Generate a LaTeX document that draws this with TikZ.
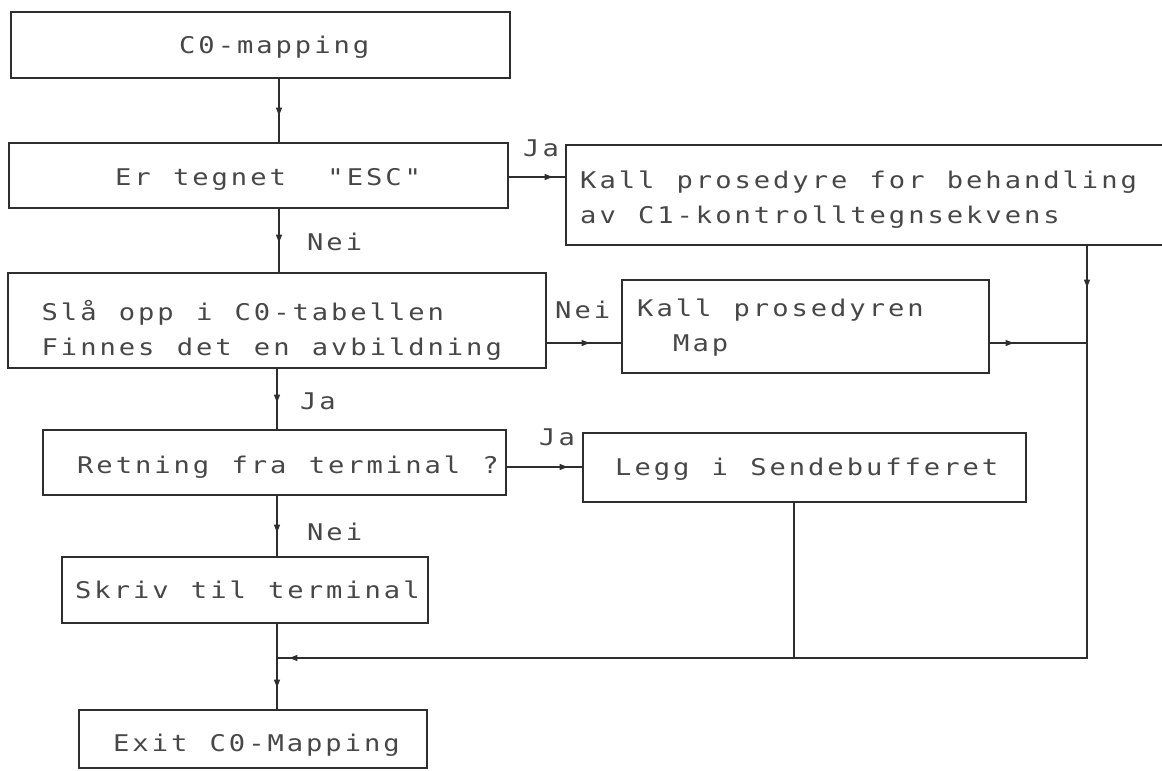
\documentclass[tikz,border=0pt]{standalone}
\usepackage{fontspec}
\newfontfamily\typefont{DejaVu Sans Mono}[FakeStretch=1.18]
\usetikzlibrary{arrows.meta,decorations.markings}

% typewriter-style text: every character sits in a cell of fixed pitch
\newlength\pitch
\setlength\pitch{19.3pt}
\makeatletter
\def\typed@end{\typed@end}
\def\typed#1{\typed@loop#1\typed@end}
\def\typed@loop#1{\ifx#1\typed@end\else\hbox to\pitch{#1\hss}\expandafter\typed@loop\fi}
\makeatother

\definecolor{ink}{gray}{0.18}
\definecolor{typeink}{gray}{0.28}

\tikzset{
  box/.style={draw=ink, line width=1.3pt, rectangle, inner sep=0pt},
  flow/.style={draw=ink, line width=1.1pt},
  tip/.style={postaction={decorate, decoration={markings,
      mark=at position #1 with {\arrow{Triangle[length=8pt,width=6pt]}}}}},
  txt/.style={anchor=base west, inner sep=0pt, text=typeink,
      font=\typefont\fontsize{23pt}{28pt}\selectfont},
}

\begin{document}
\begin{tikzpicture}[x=1pt, y=-1pt]
  \useasboundingbox (0,0) rectangle (1162,771);
  \clip (0,0) rectangle (1162,771);

  % boxes
  \node[box, minimum width=499pt, minimum height=66pt] (b1) at (260.5,45) {};
  \node[box, minimum width=499pt, minimum height=65pt] (b2) at (258.5,175.5) {};
  \node[box, minimum width=614pt, minimum height=100pt] (bk) at (873,195) {};
  \node[box, minimum width=538pt, minimum height=95pt] (bs) at (277,320.5) {};
  \node[box, minimum width=367pt, minimum height=93pt] (bm) at (805.5,326.5) {};
  \node[box, minimum width=463pt, minimum height=65pt] (br) at (274.5,462.5) {};
  \node[box, minimum width=443pt, minimum height=69pt] (bl) at (804.5,467.5) {};
  \node[box, minimum width=366pt, minimum height=66pt] (bw) at (245,590) {};
  \node[box, minimum width=348pt, minimum height=58pt] (be) at (253,739) {};

  % box texts
  \node[txt] (t1)  at (179,53)   {\typed{C0-mapping}};
  \node[txt] (t2)  at (115,185)  {\typed{Er~tegnet~~"ESC"}};
  \node[txt] (t3a) at (580,188)  {\typed{Kall~prosedyre~for~behandling}};
  \node[txt] (t3b) at (580,223)  {\typed{av~C1-kontrolltegnsekvens}};
  \node[txt] (t4a) at (41.5,320) {\typed{Slå~opp~i~C0-tabellen}};
  \node[txt] (t4b) at (41.5,355) {\typed{Finnes~det~en~avbildning}};
  \node[txt] (t5a) at (637,316)  {\typed{Kall~prosedyren}};
  \node[txt] (t5b) at (673,351)  {\typed{Map}};
  \node[txt] (t6)  at (77,473)   {\typed{Retning~fra~terminal~?}};
  \node[txt] (t7)  at (615,475)  {\typed{Legg~i~Sendebufferet}};
  \node[txt] (t8)  at (75,598)   {\typed{Skriv~til~terminal}};
  \node[txt] (t9)  at (113,751)  {\typed{Exit~C0-Mapping}};

  % branch labels
  \node[txt] (l1) at (523,156) {\typed{Ja}};
  \node[txt] (l2) at (307,250) {\typed{Nei}};
  \node[txt] (l3) at (555,318) {\typed{Nei}};
  \node[txt] (l4) at (300,409) {\typed{Ja}};
  \node[txt] (l5) at (539,445) {\typed{Ja}};
  \node[txt] (l6) at (307,540) {\typed{Nei}};

  % routing columns and rows
  \coordinate (ca) at (279,0);
  \coordinate (cb) at (277,0);
  \coordinate (cr) at (1087,0);
  \coordinate (cl) at (794,0);
  \coordinate (rj) at (0,177);
  \coordinate (rm) at (0,343);
  \coordinate (rr) at (0,467);
  \coordinate (rb) at (0,658);

  % connectors
  \draw[flow, tip=37pt] (b1.south -| ca) -- (b2.north -| ca);
  \draw[flow, tip=44pt] (b2.east |- rj) -- (bk.west |- rj);
  \draw[flow, tip=34pt] (b2.south -| ca) -- (bs.north -| ca);
  \draw[flow, tip=43pt] (bs.east |- rm) -- (bm.west |- rm);
  \draw[flow, tip=24pt] (bm.east |- rm) -- (cr |- rm);
  \draw[flow, tip=42pt, tip=1210pt] (bk.south -| cr) -- (cr |- rb) -- (cb |- rb);
  \draw[flow, tip=34pt] (bs.south -| cb) -- (br.north -| cb);
  \draw[flow, tip=61pt] (br.east |- rr) -- (bl.west |- rr);
  \draw[flow] (bl.south -| cl) -- (cl |- rb);
  \draw[flow, tip=37pt] (br.south -| cb) -- (bw.north -| cb);
  \draw[flow, tip=64pt] (bw.south -| cb) -- (be.north -| cb);
\end{tikzpicture}
\end{document}
